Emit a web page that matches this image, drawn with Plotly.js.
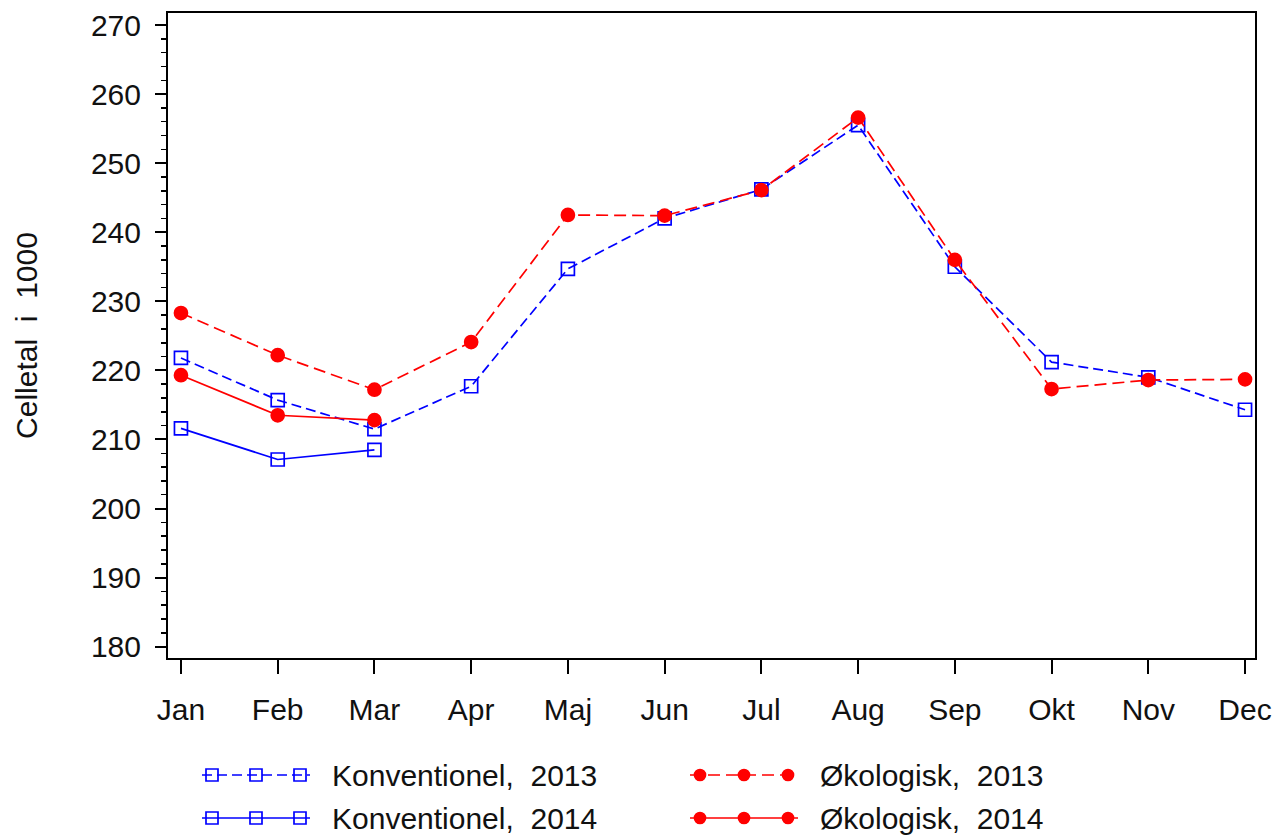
<!DOCTYPE html>
<html>
<head>
<meta charset="utf-8">
<script src="https://cdn.plot.ly/plotly-3.0.1.min.js"></script>
<style>html,body{margin:0;padding:0;background:#fff;}#chart{width:1274px;height:839px;}</style>
</head>
<body>
<div id="chart"></div>
<script>
// ---- data ----
const months = ["Jan","Feb","Mar","Apr","Maj","Jun","Jul","Aug","Sep","Okt","Nov","Dec"];
const konv2013 = [221.8, 215.7, 211.5, 217.7, 234.7, 242.0, 246.2, 255.5, 235.0, 221.2, 219.0, 214.3];
const konv2014 = [211.6, 207.1, 208.5];
const oko2013  = [228.3, 222.2, 217.2, 224.1, 242.5, 242.4, 246.1, 256.6, 236.0, 217.3, 218.6, 218.7];
const oko2014  = [219.3, 213.5, 212.8];
const seriesNames = ["Konventionel,\u00a0\u00a02013", "Konventionel,\u00a0\u00a02014", "\u00d8kologisk,\u00a0\u00a02013", "\u00d8kologisk,\u00a0\u00a02014"];
const yTitle = "Celletal\u00a0\u00a0i\u00a0\u00a01000";
const yTicks = [180, 190, 200, 210, 220, 230, 240, 250, 260, 270];

// ---- styles ----
const BLUE = "#0000ff", RED = "#ff0000";
const FONT = "Liberation Sans, Arial, sans-serif";
const TXT = "#111";
const ML = 168, MR = 19, MT = 13, MB = 181, W = 1274, H = 839;
const PW = W - ML - MR, PH = H - MT - MB;
const px2x = p => (p - ML) / PW;
const py2y = p => (H - MB - p) / PH;

const blueDash = "10px,5px";
const redDash = "12px,6px";

function tr(y, name, color, dash, symbol) {
  return {
    x: months.slice(0, y.length), y: y, name: name, type: "scatter", mode: "lines+markers",
    line: {color: color, width: 1.7, dash: dash},
    marker: {symbol: symbol, size: 13, color: color, line: {color: color, width: 1.7}},
    showlegend: false
  };
}

const traces = [
  tr(konv2013, seriesNames[0], BLUE, blueDash, "square-open"),
  tr(konv2014, seriesNames[1], BLUE, "solid", "square-open"),
  tr(oko2013, seriesNames[2], RED, redDash, "circle"),
  tr(oko2014, seriesNames[3], RED, "solid", "circle")
];

// ---- hand-made legend (samples with three markers, like the original) ----
const shapes = [], annotations = [];
const legendItems = [
  {name: seriesNames[0], color: BLUE, dash: blueDash, sym: "sq", x0: 202, y: 775},
  {name: seriesNames[1], color: BLUE, dash: "solid", sym: "sq", x0: 202, y: 818},
  {name: seriesNames[2], color: RED, dash: redDash, sym: "ci", x0: 690, y: 775},
  {name: seriesNames[3], color: RED, dash: "solid", sym: "ci", x0: 690, y: 818}
];
legendItems.forEach(it => {
  const len = 108;
  shapes.push({type: "line", xref: "paper", yref: "paper",
    x0: px2x(it.x0), x1: px2x(it.x0 + len), y0: py2y(it.y), y1: py2y(it.y),
    line: {color: it.color, width: 1.7, dash: it.dash}});
  [10, 54, 98].forEach(off => {
    const cx = it.x0 + off, r = it.sym === "sq" ? 6 : 5.5;
    shapes.push({type: it.sym === "sq" ? "rect" : "circle", xref: "paper", yref: "paper",
      x0: px2x(cx - r), x1: px2x(cx + r), y0: py2y(it.y - r), y1: py2y(it.y + r),
      line: {color: it.color, width: 1.7},
      fillcolor: it.sym === "sq" ? "rgba(0,0,0,0)" : it.color});
  });
  annotations.push({xref: "paper", yref: "paper", x: px2x(it.x0 + 128), y: py2y(it.y),
    xanchor: "left", yanchor: "middle", showarrow: false, text: it.name,
    font: {family: FONT, size: 30, color: TXT}});
});

const layout = {
  width: W, height: H,
  margin: {l: ML, r: MR, t: MT, b: MB},
  paper_bgcolor: "#fff", plot_bgcolor: "#fff",
  font: {family: FONT, size: 30, color: TXT},
  showlegend: false,
  xaxis: {
    type: "category", range: [-0.134, 11.103],
    showline: true, mirror: true, linecolor: "#000", linewidth: 2,
    ticks: "outside", ticklen: 14, tickwidth: 2, tickcolor: "#000",
    ticklabelstandoff: 10,
    showgrid: false, zeroline: false,
    tickfont: {family: FONT, size: 30, color: TXT}
  },
  yaxis: {
    range: [178.36, 271.74], tickvals: yTicks,
    showline: true, mirror: true, linecolor: "#000", linewidth: 2,
    ticks: "outside", ticklen: 11, tickwidth: 2, tickcolor: "#000",
    ticklabelstandoff: 8,
    minor: {dtick: 2, ticks: "outside", ticklen: 5, tickwidth: 1.5, tickcolor: "#000", showgrid: false},
    showgrid: false, zeroline: false,
    tickfont: {family: FONT, size: 30, color: TXT},
    title: {text: yTitle, font: {family: FONT, size: 30, color: TXT}, standoff: 44}
  },
  shapes: shapes,
  annotations: annotations
};

Plotly.newPlot("chart", traces, layout, {displayModeBar: false, staticPlot: true});
</script>
</body>
</html>
